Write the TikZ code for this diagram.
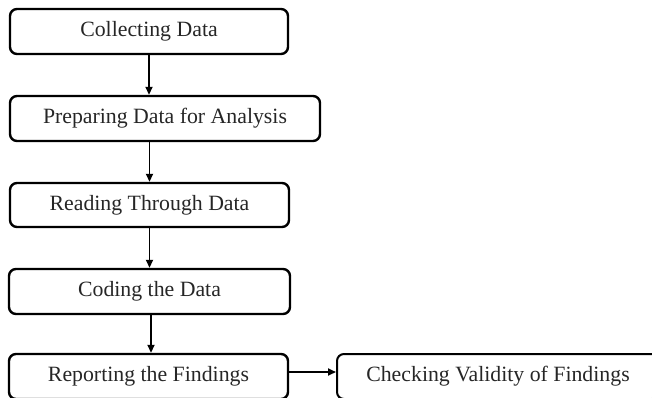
\documentclass[tikz,border=0pt]{standalone}
\usepackage{fontspec}
\setmainfont{Liberation Serif}
\usetikzlibrary{arrows.meta}
\begin{document}
\begin{tikzpicture}[x=1pt,y=-1pt,
  stepbox/.style={draw=black, line width=2.4pt, rounded corners=7pt, inner sep=0pt,
    minimum height=45pt, font=\fontsize{21.8}{26}\selectfont, text=black!85},
  thinbox/.style={stepbox, line width=2pt},
  conn/.style={line width=1.7pt, -{Triangle[length=8pt,width=7pt]}}]
\useasboundingbox (0,0) rectangle (652,397);
\clip (0,0) rectangle (652,397);
\node[stepbox, minimum width=278pt] (b1) at (149,31.5) {Collecting Data};
\node[stepbox, minimum width=310pt] (b2) at (165,118.5) {Preparing Data for Analysis};
\node[stepbox, minimum width=279pt, minimum height=44pt] (b3) at (149.5,205) {Reading Through Data};
\node[stepbox, minimum width=281pt] (b4) at (149.5,291.5) {Coding the Data};
\node[stepbox, minimum width=279pt] (b5) at (148.5,376.5) {Reporting the Findings};
\node[thinbox, minimum width=322pt] (b6) at (498,376.5) {Checking Validity of Findings};
\draw[conn] (b1.south) -- (b2.north -| b1.south);
\draw[conn] (b2.south -| b3.north) -- (b3.north);
\draw[conn] (b3.south) -- (b4.north -| b3.south);
\draw[conn] ([xshift=1.5pt]b4.south) -- ([xshift=1.5pt]b4.south |- b5.north);
\draw[conn] ([yshift=4.5pt]b5.east) -- ([yshift=4.5pt]b6.west);
\end{tikzpicture}
\end{document}
